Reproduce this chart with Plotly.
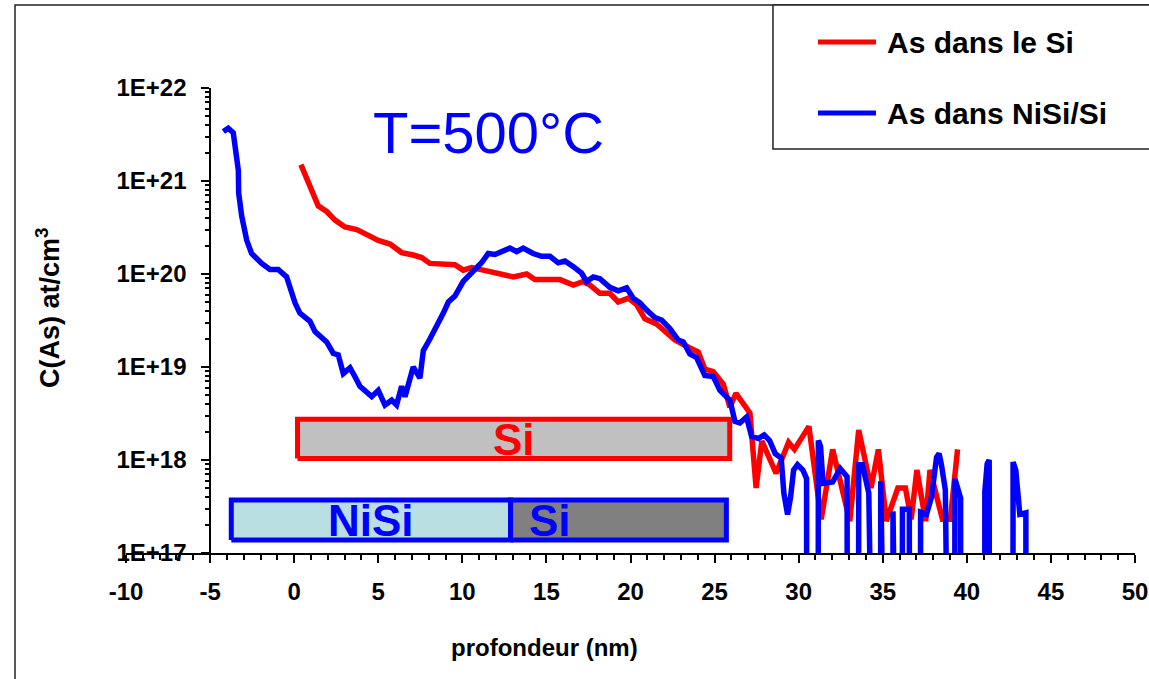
import plotly.graph_objects as go

# depth profiles (nm, at/cm3); 1e10 = below detection limit
si_depth = [0.40, 0.84, 1.43, 1.93, 2.43, 3.02, 3.72, 4.41, 5.00, 5.70, 6.39, 7.08, 7.58,
            8.07, 8.97, 9.56, 10.05, 10.55, 11.24, 12.04, 13.03, 13.82, 14.31, 15.80, 16.60,
            17.19, 17.59, 18.18, 18.77, 19.27, 19.87, 20.36, 20.86, 21.55, 22.15, 22.64,
            23.53, 24.03, 24.42, 24.92, 25.52, 25.91, 26.27, 27.10, 27.47, 27.81, 28.66,
            29.40, 29.75, 30.61, 31.34, 32.02, 33.04, 33.57, 34.30, 34.74, 35.21, 35.90,
            36.35, 36.69, 37.03, 37.55, 37.81, 38.55, 39.02, 39.45]
si_conc = [1.5e21, 9.8e20, 5.4e20, 4.7e20, 3.8e20, 3.2e20, 3.0e20, 2.6e20, 2.3e20, 2.1e20,
           1.7e20, 1.6e20, 1.5e20, 1.3e20, 1.3e20, 1.26e20, 1.1e20, 1.17e20, 1.1e20, 1.02e20,
           9.3e19, 1.0e20, 8.7e19, 8.7e19, 7.6e19, 8.3e19, 7.6e19, 6.2e19, 6.2e19, 5.0e19,
           5.5e19, 4.7e19, 3.3e19, 2.9e19, 2.3e19, 1.95e19, 1.6e19, 1.45e19, 9.5e18, 8.9e18,
           6.5e18, 3.7e18, 5.2e18, 3.2e18, 5.0e17, 1.6e18, 7.2e17, 1.55e18, 1.3e18, 2.3e18,
           2.3e17, 1.3e18, 2.2e17, 2.1e18, 5.0e17, 1.3e18, 2.2e17, 5.0e17, 5.0e17, 2.3e17,
           7.8e17, 2.2e17, 7.8e17, 2.3e17, 2.3e17, 1.3e18]

nisi_depth = [-4.21, -3.92, -3.62, -3.42, -3.32, -3.30, -3.12, -2.82, -2.53, -1.93, -1.44,
              -0.95, -0.45, -0.25, 0.05, 0.34, 0.94, 1.24, 1.93, 2.33, 2.62, 2.92, 3.32, 3.61,
              3.91, 4.61, 5.00, 5.40, 5.80, 6.09, 6.39, 6.59, 6.78, 7.08, 7.48, 7.68, 8.07,
              8.47, 8.87, 9.17, 9.56, 10.05, 10.65, 11.14, 11.54, 11.94, 12.83, 13.23, 13.62,
              14.21, 14.71, 15.21, 15.70, 16.10, 16.60, 17.09, 17.39, 17.79, 18.18, 18.77,
              19.27, 19.77, 20.16, 20.56, 20.96, 21.45, 21.85, 22.34, 22.84, 23.14, 23.53,
              23.93, 24.42, 24.92, 25.32, 25.91, 26.21, 26.50, 26.90, 27.20, 27.60, 27.95,
              28.27, 28.61, 28.96, 29.12, 29.34, 29.52, 29.70, 29.93, 30.25, 30.47, 30.50,
              31.14, 31.17, 31.30, 31.45, 32.02, 32.47, 32.88, 32.91, 33.54, 33.57, 33.79,
              34.17, 34.20, 34.85, 34.88, 34.91, 35.58, 35.61, 35.64, 36.14, 36.17, 36.58,
              36.61, 37.22, 37.25, 37.60, 37.90, 38.20, 38.35, 38.49, 38.72, 38.75, 39.26,
              39.29, 39.45, 39.63, 39.66, 41.05, 41.07, 41.21, 41.33, 41.36, 42.72, 42.75,
              42.91, 43.15, 43.51, 43.54]
nisi_conc = [3.4e21, 3.7e21, 3.3e21, 1.8e21, 1.3e21, 7.4e20, 4.2e20, 2.3e20, 1.66e20, 1.3e20,
             1.12e20, 1.12e20, 9.3e19, 7.2e19, 4.9e19, 3.8e19, 3.1e19, 2.4e19, 1.86e19,
             1.4e19, 1.35e19, 8.5e18, 9.8e18, 7.9e18, 6.2e18, 4.8e18, 5.6e18, 3.9e18, 4.4e18,
             3.9e18, 6.2e18, 4.8e18, 6.2e18, 1.0e19, 7.6e18, 1.5e19, 2.0e19, 2.7e19, 3.8e19,
             5.0e19, 5.8e19, 8.3e19, 1.07e20, 1.32e20, 1.66e20, 1.62e20, 1.9e20, 1.74e20,
             1.9e20, 1.66e20, 1.55e20, 1.55e20, 1.32e20, 1.38e20, 1.2e20, 1.02e20, 8.3e19,
             9.3e19, 8.9e19, 7.2e19, 6.6e19, 7.1e19, 5.5e19, 4.9e19, 4.1e19, 3.4e19, 3.2e19,
             2.6e19, 1.95e19, 1.86e19, 1.38e19, 1.26e19, 8.1e18, 7.9e18, 5.6e18, 4.4e18,
             2.6e18, 2.5e18, 2.9e18, 1.8e18, 1.7e18, 1.86e18, 1.62e18, 1.17e18, 1.05e18,
             4.4e17, 2.6e17, 4.0e17, 7.8e17, 8.9e17, 7.8e17, 6.3e17, 1e10, 1e10, 1.62e18,
             1.4e18, 5.6e17, 5.8e17, 8.1e17, 6.6e17, 1e10, 1e10, 8.9e17, 8.9e17, 4.4e17,
             1e10, 1e10, 5.9e17, 1e10, 1e10, 2.8e17, 1e10, 1e10, 2.95e17, 2.95e17, 1e10,
             1e10, 2.75e17, 2.6e17, 4.0e17, 1.07e18, 1.17e18, 8.9e17, 4.8e17, 1e10, 1e10,
             6.3e17, 5.2e17, 3.9e17, 1e10, 1e10, 4.6e17, 9.1e17, 1.0e18, 1e10, 1e10, 9.5e17,
             7.8e17, 2.6e17, 2.7e17, 1e10]

# layer extents (nm)
si_layer = [0.2, 25.9]
nisi_layer = [-3.74, 12.87]
si_under_nisi = [12.87, 25.7]

x_tickvals = list(range(-10, 55, 5))
x_ticktext = [str(v) for v in x_tickvals]
y_tickvals = [1e17, 1e18, 1e19, 1e20, 1e21, 1e22]
y_ticktext = ["1E+17", "1E+18", "1E+19", "1E+20", "1E+21", "1E+22"]
y_minor = [m * 10.0 ** e for e in range(17, 22) for m in range(2, 10)]

FONT = "Liberation Sans, Arial, sans-serif"
RED = "#FF0000"
BLUE = "#0000FF"

fig = go.Figure()


# layer bars drawn as closed filled paths
def layer_bar(xs, lo, hi, fill, edge):
    fig.add_trace(go.Scatter(x=[xs[0], xs[1], xs[1], xs[0], xs[0]], y=[lo, lo, hi, hi, lo],
                             mode="lines", fill="toself", fillcolor=fill,
                             line=dict(color=edge, width=5), hoverinfo="skip",
                             showlegend=False))


layer_bar(si_layer, 1.035e18, 2.75e18, "#C0C0C0", RED)
layer_bar(nisi_layer, 1.38e17, 3.72e17, "#B9DFE2", BLUE)
layer_bar(si_under_nisi, 1.38e17, 3.72e17, "#808080", BLUE)

fig.add_trace(go.Scatter(x=si_depth, y=si_conc, mode="lines", name="As dans le Si",
                         line=dict(color=RED, width=5.5), showlegend=False))
fig.add_trace(go.Scatter(x=nisi_depth, y=nisi_conc, mode="lines", name="As dans NiSi/Si",
                         line=dict(color=BLUE, width=5.5), showlegend=False))

fig.add_annotation(x=13.07, y=18.22, text="<b>Si</b>", showarrow=False,
                   font=dict(family=FONT, size=44, color=RED))
fig.add_annotation(x=4.57, y=17.35, text="<b>NiSi</b>", showarrow=False,
                   font=dict(family=FONT, size=44, color=BLUE))
fig.add_annotation(x=15.2, y=17.35, text="<b>Si</b>", showarrow=False,
                   font=dict(family=FONT, size=44, color=BLUE))
fig.add_annotation(x=11.55, y=21.52, text="T=500°C", showarrow=False,
                   font=dict(family=FONT, size=58, color=BLUE))

# outer frame and legend box
fig.add_shape(type="rect", xref="paper", yref="paper", x0=-0.110, x1=1.03, y0=-0.30, y1=1.1785,
              line=dict(color="#222222", width=1.5), layer="below")
fig.add_shape(type="rect", xref="paper", yref="paper", x0=0.6412, x1=1.03, y0=0.8688, y1=1.1785,
              line=dict(color="#222222", width=1.5), fillcolor="white")
for yy, col, label in [(1.0989, RED, "As dans le Si"), (0.9462, BLUE, "As dans NiSi/Si")]:
    fig.add_shape(type="line", xref="paper", yref="paper", x0=0.6858, x1=0.7433, y0=yy, y1=yy,
                  line=dict(color=col, width=5))
    fig.add_annotation(xref="paper", yref="paper", x=0.7522, y=yy, xanchor="left",
                       yanchor="middle", text="<b>" + label + "</b>", showarrow=False,
                       font=dict(family=FONT, size=30, color="black"))

# axis titles
fig.add_annotation(xref="paper", yref="paper", x=0.415, y=-0.204, xanchor="center",
                   yanchor="middle", text="<b>profondeur (nm)</b>",
                   showarrow=False, font=dict(family=FONT, size=24, color="black"))
fig.add_annotation(xref="paper", yref="paper", x=-0.0773, y=0.527, xanchor="center",
                   yanchor="middle", textangle=-90,
                   text="<b>C(As) at/cm<sup>3</sup></b>", showarrow=False,
                   font=dict(family=FONT, size=27, color="black"))

fig.update_layout(
    width=1149, height=679,
    margin=dict(l=126, r=14, t=88, b=126, autoexpand=False),
    plot_bgcolor="white", paper_bgcolor="white",
    font=dict(family=FONT, color="black"),
    xaxis=dict(range=[-10, 50], tickmode="array", tickvals=x_tickvals, ticktext=x_ticktext,
               showgrid=False, zeroline=False, automargin=False,
               showline=True, linecolor="black", linewidth=1.5,
               ticks="outside", ticklen=8, tickwidth=1.5, tickcolor="black",
               tickfont=dict(family=FONT, size=24, color="black", weight="bold"),
               ticklabelstandoff=8,
               minor=dict(dtick=1, ticks="outside", ticklen=5, tickcolor="black")),
    yaxis=dict(type="log", range=[17, 22], anchor="free", position=5 / 60,
               showgrid=False, zeroline=False, automargin=False,
               showline=True, linecolor="black", linewidth=1.5,
               tickmode="array", tickvals=y_tickvals, ticktext=y_ticktext,
               ticks="outside", ticklen=8, tickwidth=1.5, tickcolor="black",
               tickfont=dict(family=FONT, size=24, color="black", weight="bold"),
               ticklabelstandoff=10,
               minor=dict(tickvals=y_minor, ticks="outside", ticklen=4, tickcolor="black")),
)

fig.write_html("out.html", config={"displayModeBar": False},
               post_script="document.body.style.margin='0';")
